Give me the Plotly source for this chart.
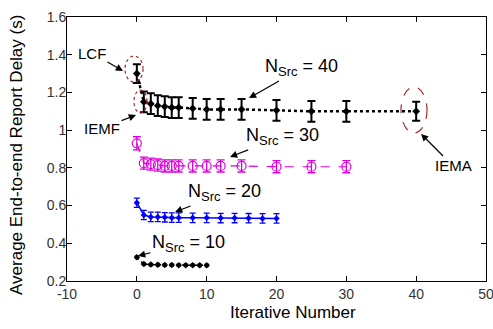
import plotly.graph_objects as go

# ---- data ----
x40 = [0, 1, 2, 3, 4, 5, 6, 8, 10, 12, 15, 20, 25, 30, 40]
y40 = [1.30, 1.15, 1.14, 1.13, 1.125, 1.12, 1.12, 1.115, 1.11, 1.11, 1.11, 1.105, 1.10, 1.10, 1.10]
e40 = [0.05, 0.055, 0.055, 0.055, 0.055, 0.055, 0.055, 0.055, 0.055, 0.055, 0.055, 0.055, 0.055, 0.055, 0.05]

x30 = [0, 1, 2, 3, 4, 5, 6, 8, 10, 12, 15, 20, 25, 30]
y30 = [0.93, 0.825, 0.82, 0.815, 0.81, 0.81, 0.81, 0.81, 0.81, 0.81, 0.81, 0.806, 0.806, 0.806]
e30 = [0.035, 0.032, 0.032, 0.032, 0.032, 0.032, 0.032, 0.032, 0.032, 0.032, 0.032, 0.032, 0.032, 0.032]

x20 = [0, 1, 2, 3, 4, 5, 6, 8, 10, 12, 14, 16, 18, 20]
y20 = [0.615, 0.55, 0.54, 0.54, 0.538, 0.536, 0.536, 0.535, 0.535, 0.534, 0.534, 0.533, 0.532, 0.532]
e20 = [0.025, 0.025, 0.025, 0.025, 0.025, 0.025, 0.025, 0.025, 0.025, 0.025, 0.025, 0.025, 0.025, 0.025]

x10 = [0, 1, 2, 3, 4, 5, 6, 7, 8, 9, 10]
y10 = [0.326, 0.29, 0.287, 0.286, 0.285, 0.285, 0.284, 0.284, 0.284, 0.283, 0.283]
e10 = [0.008, 0.007, 0.007, 0.007, 0.007, 0.007, 0.007, 0.007, 0.007, 0.007, 0.007]

x_ticks = [-10, 0, 10, 20, 30, 40, 50]
x_tick_text = ["-10", "0", "10", "20", "30", "40", "50"]
y_ticks = [0.2, 0.4, 0.6, 0.8, 1.0, 1.2, 1.4, 1.6]
y_tick_text = ["0.2", "0.4", "0.6", "0.8", "1", "1.2", "1.4", "1.6"]

FONT = "Liberation Sans, Arial, sans-serif"
RED = "#a52a2a"

fig = go.Figure()

fig.add_trace(go.Scatter(
    x=x10, y=y10, mode="lines+markers",
    line=dict(color="black", width=1.5, dash="dot"),
    marker=dict(symbol="diamond", size=5, color="black"),
    error_y=dict(type="data", array=e10, color="black", thickness=1.2, width=2),
))
fig.add_trace(go.Scatter(
    x=x20, y=y20, mode="lines+markers",
    line=dict(color="#0000ff", width=1.5),
    marker=dict(symbol="diamond", size=5, color="#0000ff"),
    error_y=dict(type="data", array=e20, color="#0000ff", thickness=1.3, width=3),
))
fig.add_trace(go.Scatter(
    x=x30, y=y30, mode="lines+markers",
    line=dict(color="#dd00dd", width=1.2, dash="dash"),
    marker=dict(symbol="circle-open", size=9, color="#dd00dd", line=dict(width=1.2)),
    error_y=dict(type="data", array=e30, color="#dd00dd", thickness=1.3, width=4),
))
fig.add_trace(go.Scatter(
    x=x40, y=y40, mode="lines+markers",
    line=dict(color="black", width=2.5, dash="dot"),
    marker=dict(symbol="diamond", size=6, color="black"),
    error_y=dict(type="data", array=e40, color="black", thickness=2, width=4),
))

# ellipses
fig.add_shape(type="circle", xref="x", yref="y", x0=-1.69, x1=0.89, y0=1.255, y1=1.393,
              line=dict(color=RED, width=1.2, dash="dot"))
fig.add_shape(type="circle", xref="x", yref="y", x0=-0.41, x1=1.46, y0=1.091, y1=1.213,
              line=dict(color=RED, width=1.2, dash="dot"))
fig.add_shape(type="circle", xref="x", yref="y", x0=37.83, x1=41.55, y0=0.985, y1=1.229,
              line=dict(color=RED, width=1.2, dash="dash"))

# labelled arrows: (text, text centre x, text centre y, arrow head x, arrow head y, font size)
sub = lambda n: "N<sub><span style='font-size:13px'>Src</span></sub> = " + n
labels = [
    ("LCF", -6.42, 1.409, -1.98, 1.314, 15),
    ("IEMF", -4.99, 1.011, -0.12, 1.08, 15),
    ("IEMA", 45.28, 0.81, 40.7, 0.98, 15),
    (sub("40"), 23.6, 1.33, 16.06, 1.17, 18),
    (sub("30"), 20.8, 0.964, 13.34, 0.858, 18),
    (sub("20"), 12.5, 0.667, 5.47, 0.566, 18),
    (sub("10"), 7.4, 0.4015, 0.17, 0.333, 18),
]
for t, tx, ty, hx, hy, fs in labels:
    fig.add_annotation(x=hx, y=hy, ax=tx, ay=ty, axref="x", ayref="y", xref="x", yref="y",
                       text=t, showarrow=True, arrowhead=2, arrowsize=1.2, arrowwidth=1.2,
                       arrowcolor="black", standoff=0,
                       font=dict(family=FONT, size=fs, color="black"))

# axis titles as annotations (paper coordinates)
fig.add_annotation(x=0.539, y=-0.121, xref="paper", yref="paper", text="Iterative Number",
                   showarrow=False, xanchor="center", yanchor="middle",
                   font=dict(family=FONT, size=17, color="black"))
fig.add_annotation(x=-0.122, y=0.477, xref="paper", yref="paper",
                   text="Average End-to-end Report Delay (s)", textangle=-90,
                   showarrow=False, xanchor="center", yanchor="middle",
                   font=dict(family=FONT, size=17, color="black"))

axis_common = dict(
    showgrid=False, zeroline=False, showline=True, linecolor="black", linewidth=1,
    mirror="allticks", ticks="inside", ticklen=5, tickcolor="black", tickwidth=1,
    tickfont=dict(family=FONT, size=14, color="#333333"), automargin=False,
    ticklabeloverflow="allow",
)
fig.update_xaxes(range=[-10, 50], tickvals=x_ticks, ticktext=x_tick_text,
                 ticklabelstandoff=0, **axis_common)
fig.update_yaxes(range=[0.2, 1.6], tickvals=y_ticks, ticktext=y_tick_text,
                 ticklabelstandoff=-3, **axis_common)

fig.update_layout(
    width=493, height=329, showlegend=False,
    margin=dict(l=67, r=7, t=17, b=48),
    plot_bgcolor="white", paper_bgcolor="white",
    font=dict(family=FONT),
)

fig.write_html("out.html", config={"displayModeBar": False},
               post_script="document.body.style.margin='0';")
